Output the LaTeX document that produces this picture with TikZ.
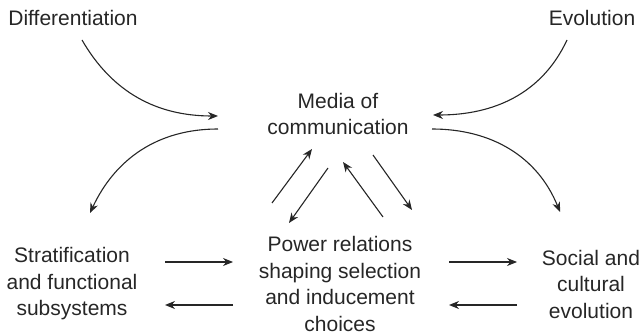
\documentclass[tikz,border=0pt]{standalone}
\usepackage{fontspec}
\setmainfont{Liberation Sans}
\usetikzlibrary{arrows.meta}
\begin{document}
\begin{tikzpicture}[x=1pt,y=-1pt,
  lbl/.style={align=center,inner sep=0pt,font=\fontsize{21}{26.5}\selectfont,text=black!85},
  arr/.style={line width=1.1pt,draw=black!85,-{Stealth[length=10pt,width=8pt]}}]
\useasboundingbox (0,0) rectangle (642,336);
\node[lbl] (diff) at (73,18) {Differentiation};
\node[lbl] (evo) at (592,18) {Evolution};
\node[lbl] (media) at (338,114) {Media of\\communication};
\node[lbl] (strat) at (72,284) {Stratification\\and functional\\subsystems};
\node[lbl] (power) at (340,284) {Power relations\\shaping selection\\and inducement\\choices};
\node[lbl] (social) at (591,284) {Social and\\cultural\\evolution};
% arcs
\draw[arr] ([shift={(9,22)}]diff.center) to[out=-60,in=180] ([shift={(-120,2)}]media.center);
\draw[arr] ([shift={(-120,15)}]media.center) to[out=180,in=65] ([shift={(18,-71)}]strat.center);
\draw[arr] ([shift={(-25,22)}]evo.center) to[out=-115,in=0] ([shift={(95,1)}]media.center);
\draw[arr] ([shift={(94,15)}]media.center) to[out=0,in=112] ([shift={(-31,-72)}]social.center);
% horizontal
\draw[arr] ([shift={(93,-22)}]strat.center) -- ([shift={(-107,-22)}]power.center);
\draw[arr] ([shift={(-107,21)}]power.center) -- ([shift={(93,21)}]strat.center);
\draw[arr] ([shift={(109,-22)}]power.center) -- ([shift={(-74,-22)}]social.center);
\draw[arr] ([shift={(-74,21)}]social.center) -- ([shift={(109,21)}]power.center);
% central
\draw[arr] ([shift={(-68,-81)}]power.center) -- ([shift={(-26,35)}]media.center);
\draw[arr] ([shift={(-10,54)}]media.center) -- ([shift={(-51,-61)}]power.center);
\draw[arr] ([shift={(43,-67)}]power.center) -- ([shift={(5,48)}]media.center);
\draw[arr] ([shift={(35,41)}]media.center) -- ([shift={(72,-74)}]power.center);
\end{tikzpicture}
\end{document}
